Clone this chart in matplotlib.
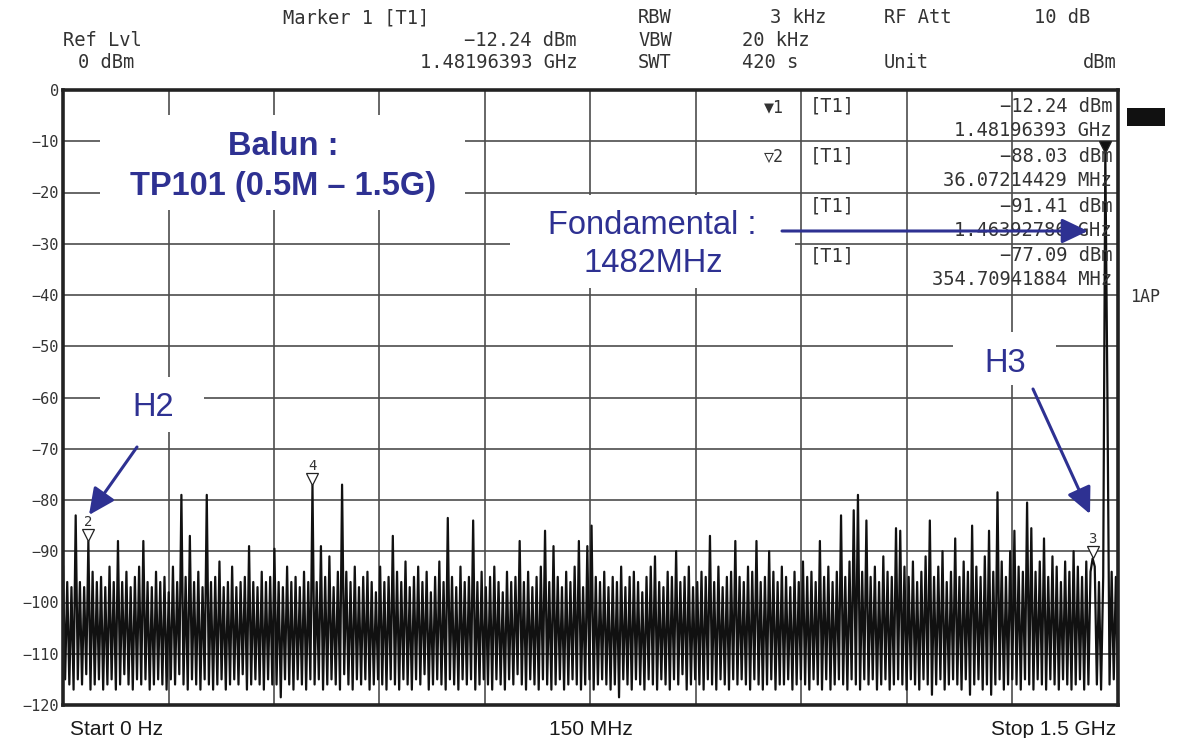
import numpy as np
import matplotlib
matplotlib.use("Agg")
import matplotlib.pyplot as plt
from matplotlib.patches import Rectangle, FancyArrowPatch
from matplotlib.transforms import offset_copy

W, H = 1180, 738

# sweep settings (R&S style screen shot)
START_MHZ = 0
STOP_MHZ = 1500
REF_DB = 0
BOTTOM_DB = -120

# trace: sweep alternates between a top sample and a floor sample
peak_db = [
    -93, -96, -97, -83, -96, -97, -88.03, -94, -96, -95,
    -97, -93, -96, -88, -96, -94, -97, -95, -93, -88,
    -96, -97, -94, -96, -95, -98, -93, -96, -79, -95,
    -87, -96, -94, -97, -79, -96, -95, -92, -97, -96,
    -93, -97, -96, -95, -89, -96, -97, -94, -96, -95,
    -89.5, -96, -97, -93, -96, -95, -97, -94, -96, -77.09,
    -96, -89, -95, -91, -97, -94, -77, -94, -96, -93,
    -97, -95, -94, -96, -98, -93, -96, -95, -87, -94,
    -96, -92, -97, -95, -93, -96, -94, -98, -95, -92,
    -96, -83.5, -95, -97, -93, -96, -95, -84, -96, -94,
    -97, -95, -93, -96, -98, -94, -96, -95, -88, -96,
    -94, -97, -95, -93, -86, -96, -89, -95, -97, -94,
    -96, -93, -88, -97, -89, -85, -95, -96, -94, -97,
    -95, -96, -93, -97, -95, -94, -96, -98, -95, -93,
    -91, -96, -97, -94, -95, -90, -96, -95, -93, -97,
    -96, -94, -95, -87, -96, -93, -97, -95, -94, -88,
    -95, -96, -93, -94, -88, -96, -95, -90, -94, -96,
    -93, -95, -97, -94, -96, -92, -95, -94, -96, -88,
    -95, -93, -96, -94, -83, -95, -92, -82, -79, -94,
    -84, -95, -93, -96, -91, -94, -95, -85.5, -86, -93,
    -95, -92, -96, -94, -91, -84, -95, -93, -90, -96,
    -94, -87.5, -95, -92, -94, -85, -93, -95, -91, -86,
    -94, -78.5, -92, -95, -90, -86, -93, -94, -80.5, -85.5,
    -94, -92, -87.5, -95, -91, -93, -96, -92, -94, -90,
    -93, -95, -92, -94, -93, -96, -95, -60, -94, -95,
]
floor_db = [
    -115, -116, -117, -115, -116, -114, -117, -116, -115, -117,
    -116, -115, -117, -116, -114, -116, -117, -115, -116, -115,
    -117, -116, -115, -116, -117, -115, -116, -114, -116, -117,
    -115, -116, -117, -115, -116, -117, -116, -115, -117, -116,
    -115, -116, -114, -117, -116, -115, -116, -117, -115, -116,
    -116, -118.5, -115, -116, -117, -115, -116, -117, -115, -116,
    -115, -117, -116, -115, -116, -117, -114, -116, -117, -115,
    -116, -115, -117, -116, -115, -116, -117, -115, -116, -117,
    -115, -116, -117, -115, -116, -114, -117, -116, -115, -116,
    -117, -115, -116, -117, -115, -116, -115, -117, -116, -115,
    -116, -117, -115, -116, -117, -115, -116, -114, -116, -117,
    -115, -116, -117, -115, -116, -117, -116, -115, -117, -116,
    -115, -116, -117, -116, -115, -117, -116, -115, -116, -117,
    -116, -118.5, -115, -116, -117, -115, -116, -117, -115, -116,
    -117, -115, -116, -117, -115, -116, -114, -117, -116, -115,
    -116, -117, -115, -116, -117, -115, -116, -117, -115, -116,
    -115, -116, -117, -115, -116, -117, -116, -115, -117, -116,
    -116, -115, -117, -116, -115, -116, -117, -115, -116, -117,
    -115, -117, -116, -115, -116, -117, -115, -116, -117, -115,
    -116, -115, -117, -116, -115, -117, -116, -115, -116, -117,
    -115, -116, -117, -115, -116, -118, -116, -115, -117, -116,
    -115, -116, -117, -115, -118, -116, -115, -117, -116, -118,
    -116, -115, -117, -116, -115, -116, -117, -115, -116, -117,
    -115, -116, -117, -115, -116, -117, -115, -116, -117, -116,
    -115, -117, -116, -91.41, -116, -117, -12.24, -116, -115, -117,
]

# markers: id, frequency (MHz), level (dBm)
marker_ids = ["1", "2", "3", "4"]
marker_mhz = [1481.96393, 36.07214429, 1463.92786, 354.70941884]
marker_db = [-12.24, -88.03, -91.41, -77.09]

BLUE = "#2e3192"
GREY = "#333333"
plt.rcParams["font.family"] = ["DejaVu Sans Mono", "DejaVu Sans"]


def fp(x, y):
    # screen pixel (top-left origin) -> figure fraction
    return x / W, 1 - y / H


def fmt_db(v):
    return f"{v:.2f} dBm".replace("-", "\u2212")


def fmt_freq(f):
    if f >= 1000:
        return f"{f / 1000:.8f} GHz"
    return f"{f:.8f} MHz"


level = np.empty(len(peak_db) + len(floor_db))
level[0::2] = peak_db
level[1::2] = floor_db
freq = np.linspace(START_MHZ, STOP_MHZ, len(level))

fig = plt.figure(figsize=(W / 100, H / 100), dpi=100)
ax = fig.add_axes([63 / W, 1 - 705 / H, (1118 - 63) / W, (705 - 90) / H])

ax.plot(freq, level, color="#111111", lw=1.6, zorder=2)
ax.set_xlim(START_MHZ, STOP_MHZ)
ax.set_ylim(BOTTOM_DB, REF_DB)
ax.set_xticks(np.arange(START_MHZ, STOP_MHZ + 1, 150))
ax.set_xticklabels([])
yt = np.arange(BOTTOM_DB, REF_DB + 1, 10)
ax.set_yticks(yt)
ax.set_yticklabels([str(v).replace("-", "\u2212") for v in yt])
ax.tick_params(length=0, pad=3, labelsize=11, labelcolor=GREY)
ax.grid(True, color="#4d4d4d", lw=1.2)
for sp in ax.spines.values():
    sp.set_linewidth(2.6)
    sp.set_color("#222222")

# marker symbols sitting on the trace (triangle apex on the point)
above = offset_copy(ax.transData, fig=fig, x=0, y=6, units="dots")
for mid, f, v in zip(marker_ids, marker_mhz, marker_db):
    filled = mid == "1"
    ax.plot([f], [v], marker="v", ms=8, mew=0.9, transform=above, zorder=4,
            mfc="#111111" if filled else "white", mec="#222222", ls="none")
    if not filled:
        ax.annotate(mid, xy=(f, v), xytext=(0, 9), textcoords="offset points",
                    ha="center", va="bottom", fontsize=10, color=GREY, zorder=4)

# header block
def hdr(x, y, s, ha="left", size=13.5, z=3):
    fig.text(*fp(x, y), s, ha=ha, va="baseline", fontsize=size, color=GREY, zorder=z)


hdr(283, 23, "Marker 1 [T1]")
hdr(63, 46, "Ref Lvl")
hdr(78, 68, f"{REF_DB} dBm")
hdr(577, 46, fmt_db(marker_db[0]), ha="right")
hdr(577, 68, fmt_freq(marker_mhz[0]), ha="right")
hdr(638, 23, "RBW")
hdr(826, 23, "3 kHz", ha="right")
hdr(638, 46, "VBW")
hdr(742, 46, "20 kHz")
hdr(638, 68, "SWT")
hdr(742, 68, "420 s")
hdr(884, 23, "RF Att")
hdr(1090, 23, "10 dB", ha="right")
hdr(884, 68, "Unit")
hdr(1117, 68, "dBm", ha="right")
hdr(1130, 302, "1AP", size=12)
fig.add_artist(Rectangle(fp(1127, 126), 38 / W, 18 / H, transform=fig.transFigure,
                         fc="#111111", ec="none", zorder=3))

# marker table inside the grid
row_y = [112, 162, 212, 261]
for mid, f, v, y in zip(marker_ids, marker_mhz, marker_db, row_y):
    sym = "\u25bc" if mid == "1" else "\u25bd"
    hdr(764, y, sym + mid, size=12, z=1.5)
    hdr(810, y, "[T1]")
    hdr(1112, y, fmt_db(v), ha="right")
    hdr(1112, y + 24, fmt_freq(f), ha="right")

# white boxes behind the notes
for x0, y0, x1, y1 in [(100, 115, 465, 210), (510, 195, 795, 288),
                       (100, 377, 204, 432), (953, 332, 1056, 385)]:
    fig.add_artist(Rectangle(fp(x0, y1), (x1 - x0) / W, (y1 - y0) / H,
                             transform=fig.transFigure, fc="white", ec="none", zorder=2))


def note(x, y, s, bold=False):
    fig.text(*fp(x, y), s, ha="center", va="baseline", fontsize=23.5, color=BLUE,
             family="Liberation Sans", fontweight="bold" if bold else "normal", zorder=3)


note(283, 155, "Balun :", bold=True)
note(283, 195, "TP101 (0.5M \u2013 1.5G)", bold=True)
note(652, 234, "Fondamental :")
note(653, 272, "1482MHz")
note(153, 416, "H2")
note(1005, 372, "H3")

for (x0, y0), (x1, y1) in [((137, 447), (89, 515)), ((1033, 389), (1090, 514)),
                           ((782, 231), (1088, 231))]:
    fig.add_artist(FancyArrowPatch(fp(x0, y0), fp(x1, y1), transform=fig.transFigure,
                                   arrowstyle="-|>,head_length=0.8,head_width=0.38",
                                   mutation_scale=20, color=BLUE, lw=2.2,
                                   shrinkA=0, shrinkB=0, zorder=4))

# bottom scale labels
for x, s, ha in [(70, "Start 0 Hz", "left"), (591, "150 MHz", "center"),
                 (1116, "Stop 1.5 GHz", "right")]:
    fig.text(*fp(x, 735), s, ha=ha, va="baseline", fontsize=15, color="#1a1a1a",
             family="Liberation Sans")

fig.savefig("out.png", dpi=100)
